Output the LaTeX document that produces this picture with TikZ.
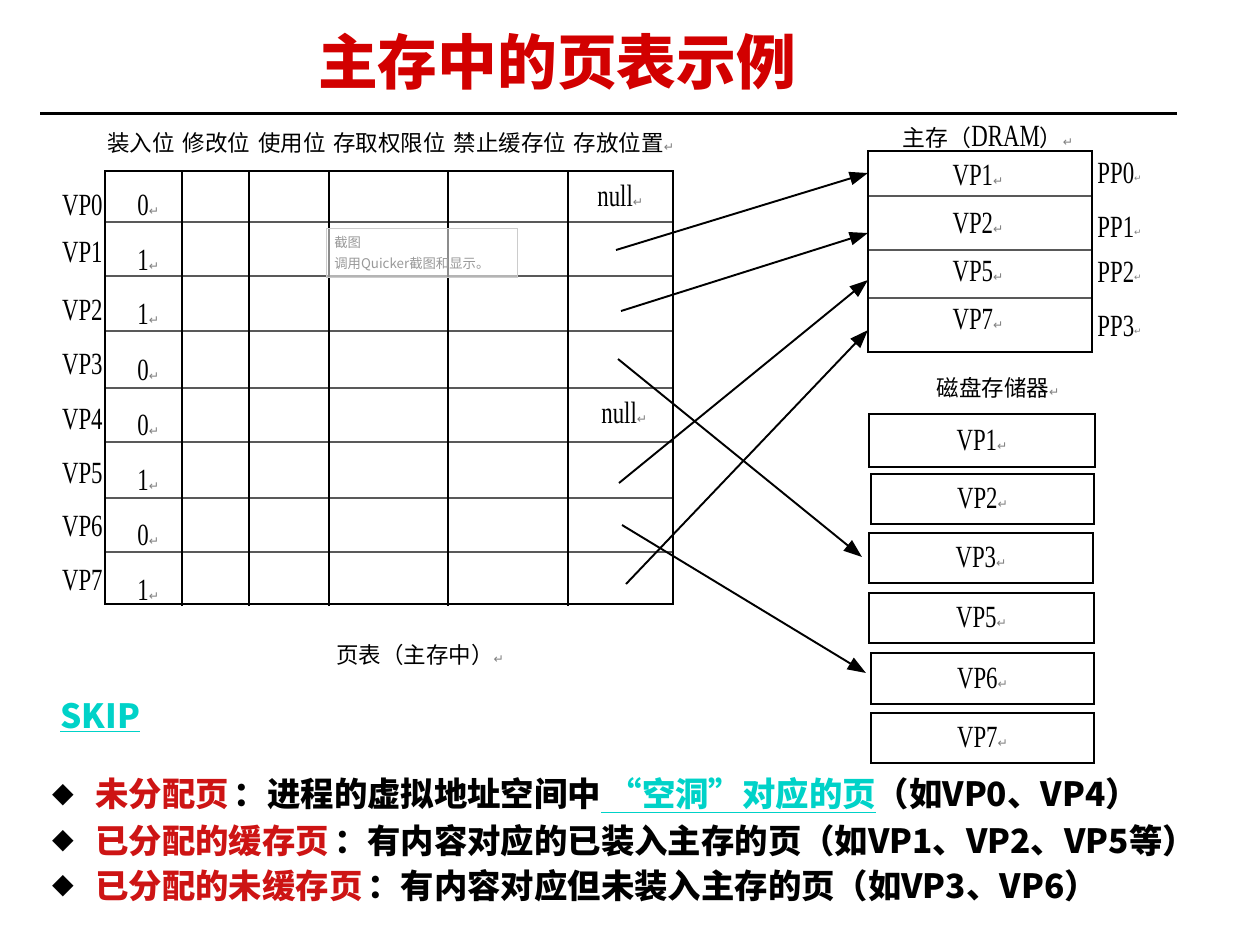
\documentclass[tikz,border=0pt]{standalone}
\usepackage{fontspec}
\usepackage{graphicx}
\usetikzlibrary{arrows.meta}
\setmainfont{Liberation Serif}
\newfontfamily\cjk{Noto Sans CJK SC}
\newfontfamily\dejavu{DejaVu Sans}
\definecolor{titlered}{RGB}{210,0,0}
\definecolor{txtred}{RGB}{205,20,20}
\definecolor{teal2}{RGB}{0,210,200}
\newcommand\rt{{\color{gray}\dejavu\fontsize{7pt}{8pt}\selectfont ↵}}
\newcommand\tl[1]{\scalebox{1}[1.35]{#1}}
\begin{document}
\begin{tikzpicture}[x=0.02cm,y=-0.02cm,
  lat/.style={inner sep=0pt,font=\fontsize{13pt}{14pt}\selectfont},
  cj/.style={inner sep=0pt,font=\cjk\fontsize{12.8pt}{14pt}\selectfont},
  rowline/.style={draw=black!65,line width=1.3pt},
  colline/.style={draw=black,line width=0.8pt},
  arr/.style={-{Triangle[length=10.5pt,width=7.5pt]},line width=1.1pt},
  bul/.style={inner sep=0pt,anchor=west,font=\cjk\bfseries\fontsize{19pt}{22pt}\selectfont},
]
\useasboundingbox (0,0) rectangle (1237,941);
% title
\node[inner sep=0pt,text=titlered,font=\cjk\bfseries\fontsize{34pt}{38pt}\selectfont] (title) at (557,62) {主存中的页表示例};
\draw[line width=1.7pt] (40,113) -- (1177,113);
% header
\node[cj,anchor=west] (hdr) at (107,143) {装入位\hspace{0.35em}修改位\hspace{0.35em}使用位\hspace{0.35em}存取权限位\hspace{0.35em}禁止缓存位\hspace{0.35em}存放位置\rt};
% table
\foreach \y in {222,276,331,388,442,498,552} \draw[rowline] (105,\y) -- (673,\y);
\foreach \x in {182,249,329,448,568} \draw[colline] (\x,171) -- (\x,606);
\draw[line width=1pt] (105,171) rectangle (673,604);
% row labels
\foreach \n/\y in {0/205,1/253,2/311,3/365,4/420,5/474,6/527,7/581}
  \node[lat,anchor=east] (vp\n) at (103,\y) {\tl{VP\n}};
\foreach \n/\v/\y in {0/0/205,1/1/260,2/1/314,3/0/370,4/0/425,5/1/480,6/0/535,7/1/590}
  \node[lat,anchor=west] (b\n) at (137,\y) {\tl{\v}\rt};
\node[lat,anchor=west] (null0) at (597,196) {\tl{null}\rt};
\node[lat,anchor=west] (null4) at (601,413) {\tl{null}\rt};
% tooltip
\node[draw=black!20,fill=white,fill opacity=0.55,text opacity=1,minimum width=3.82cm,minimum height=0.98cm,inner sep=0pt] (tip) at (421.5,252.5) {};
\node[inner sep=0pt,anchor=west,text=black!40,font=\cjk\fontsize{7.6pt}{9pt}\selectfont] (tip1) at (334,242) {截图};
\node[inner sep=0pt,anchor=west,text=black!40,font=\cjk\fontsize{7.6pt}{9pt}\selectfont] (tip2) at (334,264) {调用Quicker截图和显示。};
\node[cj,anchor=center] (cap) at (420,655) {页表（主存中）\rt};
% DRAM
\node[inner sep=0pt,font=\fontsize{13pt}{14pt}\selectfont] (dramt) at (988,137) {{\cjk 主存（}\tl{DRAM}{\cjk ）}\rt};
\foreach \y in {196,250,298} \draw[rowline] (868,\y) -- (1092,\y);
\draw[line width=1pt] (868,151) rectangle (1092,352);
\foreach \n/\t/\y in {1/VP1/176,2/VP2/224,3/VP5/272,4/VP7/320}
  \node[lat] (m\n) at (978,\y) {\tl{\t}\rt};
\foreach \n/\y in {0/173,1/227,2/272,3/326}
  \node[lat,anchor=west] (pp\n) at (1097,\y) {\tl{PP\n}{\color{gray}\fontsize{5pt}{6pt}\selectfont\raisebox{1pt}{\dejavu ↵}}};
% disk
\node[cj] (diskt) at (998,388) {磁盘存储器\rt};
\foreach \n/\t/\a/\b/\c/\d in {1/VP1/869/414/1095/467,2/VP2/871/474/1094/524,3/VP3/869/533/1093/583,4/VP5/869/593/1094/643,5/VP6/871/653/1094/704,6/VP7/871/713/1094/763}{
  \draw[line width=1pt] (\a,\b) rectangle (\c,\d);
  \node[lat] (d\n) at ({(\a+\c)/2},{(\b+\d)/2}) {\tl{\t}\rt};
}
% arrows
\coordinate (s1) at (616,250); \coordinate (e1) at (868,173);
\coordinate (s2) at (621,311); \coordinate (e2) at (868,233);
\coordinate (s3) at (618,359); \coordinate (e3) at (862,557);
\coordinate (s5) at (619,483); \coordinate (e5) at (868,280);
\coordinate (s6) at (622,525); \coordinate (e6) at (866,673);
\coordinate (s7) at (626,584); \coordinate (e7) at (868,330);
\foreach \i in {1,2,3,5,6,7} \draw[arr] (s\i) -- (e\i);
% SKIP and bullets
\node[bul,text=teal2] (skip) at (60,718) {\underline{SKIP}};
\foreach \i/\y in {1/795,2/841,3/886}
  \node[inner sep=0pt,font=\dejavu\fontsize{16pt}{18pt}\selectfont] (dia\i) at (63,\y) {◆};
\node[bul] (l1) at (95,795) {\textcolor{txtred}{未分配页}\hspace{0.15em}：进程的虚拟地址空间中\textcolor{teal2}{\underline{\ “空洞”对应的页}}（如VP0、VP4）};
\node[bul] (l2) at (95,841) {\textcolor{txtred}{已分配的缓存页}\hspace{0.15em}：有内容对应的已装入主存的页（如VP1、VP2、VP5等）};
\node[bul] (l3) at (95,886) {\textcolor{txtred}{已分配的未缓存页}\hspace{0.15em}：有内容对应但未装入主存的页（如VP3、VP6）};
\end{tikzpicture}
\end{document}
